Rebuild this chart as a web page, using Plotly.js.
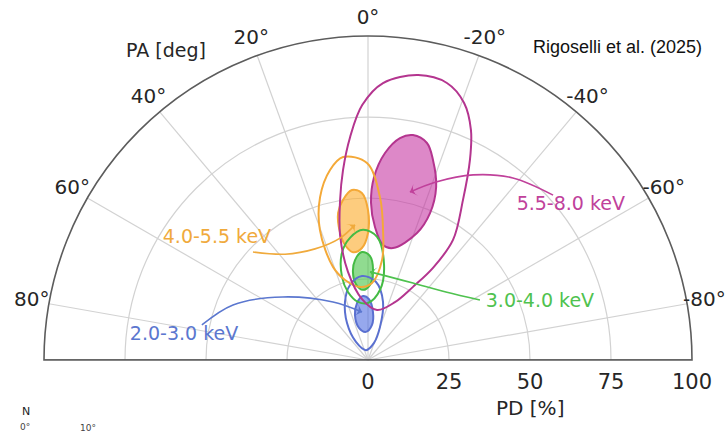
<!DOCTYPE html>
<html>
<head>
<meta charset="utf-8">
<script src="https://cdn.plot.ly/plotly-3.0.1.min.js"></script>
<style>
  html, body { margin: 0; padding: 0; background: #fff; }
  #chart { width: 726px; height: 433px; }
</style>
</head>
<body>
<div id="chart"></div>
<script>
// Energy bands
const bands = ['2.0-3.0 keV', '3.0-4.0 keV', '4.0-5.5 keV', '5.5-8.0 keV'];

// Confidence contours, PD [%] and PA [deg] along each closed curve
const pd_5580_outer = [89.3, 88.9, 84.7, 77.8, 69.3, 57.4, 45.4, 34.8, 26.5, 19.7, 15.7, 18.9, 27.9, 39.5, 50.1, 59.1, 69.0, 78.7, 85.6, 89.3];
const pa_5580_outer = [-10.0, -15.9, -20.5, -24.1, -27.0, -30.7, -35.3, -35.2, -31.6, -25.0, -10.2, 5.6, 12.8, 12.6, 9.9, 7.5, 4.6, 1.3, -3.1, -10.0];
const pd_5580_inner = [70.8, 69.4, 64.9, 57.4, 49.2, 42.0, 35.4, 35.8, 41.1, 48.5, 56.5, 64.1, 69.2, 70.8];
const pa_5580_inner = [-11.3, -15.2, -18.0, -21.5, -22.9, -21.1, -12.6, -7.4, -3.0, -1.1, -1.9, -4.7, -8.2, -11.3];

const pd_4055_outer = [63.1, 59.8, 52.4, 42.8, 30.7, 25.7, 22.7, 23.8, 31.2, 40.4, 50.4, 60.8, 63.1];
const pa_4055_outer = [7.0, 11.3, 16.4, 20.3, 20.6, 16.0, 6.3, -3.0, -8.0, -6.6, -4.2, 0.3, 7.0];
const pd_4055_inner = [52.7, 50.0, 46.3, 40.1, 36.2, 33.6, 34.6, 39.2, 46.3, 51.6, 52.7];
const pa_4055_inner = [5.4, 8.9, 11.5, 12.4, 11.3, 7.9, 3.1, 0.0, 0.0, 2.1, 5.4];

const pd_3040_outer = [40.2, 38.1, 34.0, 26.8, 21.9, 18.2, 17.6, 21.9, 29.7, 38.1, 40.2];
const pa_3040_outer = [2.2, 8.4, 13.7, 17.4, 16.4, 9.8, 0.0, -9.7, -9.6, -4.2, 2.2];
const pd_3040_inner = [33.4, 31.1, 27.6, 23.7, 21.7, 23.2, 27.8, 32.1, 33.4];
const pa_3040_inner = [3.2, 7.4, 9.7, 9.0, 4.1, -1.5, -3.2, -1.1, 3.2];

const pd_2030_outer = [26.0, 23.8, 19.3, 13.1, 6.7, 3.1, 5.6, 10.8, 18.5, 24.2, 26.0];
const pa_2030_outer = [4.1, 13.5, 21.6, 29.6, 33.7, 11.3, -19.4, -20.0, -14.5, -5.9, 4.1];
const pd_2030_inner = [19.8, 17.9, 14.5, 10.3, 8.7, 10.9, 14.9, 18.8, 19.8];
const pa_2030_inner = [4.5, 10.9, 16.1, 15.7, 4.1, -6.5, -5.9, -0.9, 4.5];

// Curved pointers from each band label to its contour
const pd_arrow_5580 = [76.5, 71.8, 65.7, 58.8, 53.4];
const pa_arrow_5580 = [-48.3, -38.5, -29.6, -20.9, -14.0];
const pd_arrow_4055 = [48.7, 41.5, 38.0, 38.6, 41.9];
const pa_arrow_4055 = [46.8, 38.1, 25.5, 12.9, 5.5];
const pd_arrow_3040 = [39.2, 31.9, 27.5, 26.6, 27.2];
const pa_arrow_3040 = [-61.8, -48.9, -30.3, -10.0, -1.3];
const pd_arrow_2030 = [52.4, 45.0, 32.7, 20.9, 14.9];
const pa_arrow_2030 = [78.1, 67.8, 53.5, 31.1, 7.1];

// Label anchor positions (PD, PA)
const label_pd = [57.3, 56.0, 59.9, 78.8];
const label_pa = [82.3, -71.4, 51.1, -52.6];

// Axis ticks
const pa_ticks = [-80, -60, -40, -20, 0, 20, 40, 60, 80];
const pa_ticktext = pa_ticks.map(v => v + '°');
const pa_label_pd = pa_ticks.map(() => 105.4);   // PA labels sit just outside the rim
const pd_ticks = [0, 25, 50, 75, 100];
const pd_range = [0, 100];
const pd_outer_range = [0, 105.86];
const pa_edges = [90, 0, -90];
const pd_edges = [100, 0, 100];

const lineColors = ['#5a70d0', '#44bb44', '#f4a938', '#b4358f'];
const fillColors = ['rgba(80,110,225,0.6)', 'rgba(70,195,70,0.6)', 'rgba(252,170,40,0.6)', 'rgba(196,50,160,0.58)'];
const textColors = ['#5b77cf', '#4fc24f', '#f0aa3c', '#c0419b'];

const outer = [[pd_2030_outer, pa_2030_outer], [pd_3040_outer, pa_3040_outer], [pd_4055_outer, pa_4055_outer], [pd_5580_outer, pa_5580_outer]];
const inner = [[pd_2030_inner, pa_2030_inner], [pd_3040_inner, pa_3040_inner], [pd_4055_inner, pa_4055_inner], [pd_5580_inner, pa_5580_inner]];
const arrows = [[pd_arrow_2030, pa_arrow_2030], [pd_arrow_3040, pa_arrow_3040], [pd_arrow_4055, pa_arrow_4055], [pd_arrow_5580, pa_arrow_5580]];

const traces = [];

// bottom edge of the half disc
traces.push({
  type: 'scatterpolar', r: pd_edges, theta: pa_edges, mode: 'lines',
  line: { color: '#5c5c5c', width: 1.6 }, hoverinfo: 'skip', showlegend: false
});

// filled inner contours
inner.forEach(([r, t], i) => traces.push({
  type: 'scatterpolar', r: r, theta: t, mode: 'lines', fill: 'toself',
  fillcolor: fillColors[i], line: { color: lineColors[i], width: 2, shape: 'spline' },
  hoverinfo: 'skip', showlegend: false
}));

// outer contours
outer.forEach(([r, t], i) => traces.push({
  type: 'scatterpolar', r: r, theta: t, mode: 'lines',
  line: { color: lineColors[i], width: 2, shape: 'spline' },
  hoverinfo: 'skip', showlegend: false
}));

// pointers
arrows.forEach(([r, t], i) => traces.push({
  type: 'scatterpolar', r: r, theta: t, mode: 'lines+markers',
  line: { color: textColors[i], width: 1.6, shape: 'spline' },
  marker: {
    symbol: 'arrow-wide', size: 9, color: textColors[i],
    angleref: 'previous', opacity: r.map((_, k) => (k === r.length - 1 ? 1 : 0))
  },
  hoverinfo: 'skip', showlegend: false
}));

// band labels
bands.forEach((b, i) => traces.push({
  type: 'scatterpolar', r: [label_pd[i]], theta: [label_pa[i]], mode: 'text',
  text: [b], textposition: 'middle center',
  textfont: { family: 'DejaVu Sans', size: 19, color: textColors[i] },
  cliponaxis: false, hoverinfo: 'skip', showlegend: false
}));

// PA tick labels, centred on a ring just outside the rim (second, bare polar frame)
traces.push({
  type: 'scatterpolar', subplot: 'polar2', r: pa_label_pd, theta: pa_ticks, mode: 'text',
  text: pa_ticktext, textposition: 'middle center',
  textfont: { family: 'DejaVu Sans', size: 20, color: '#262626' },
  cliponaxis: false, hoverinfo: 'skip', showlegend: false
});

const gridColor = '#d2d2d2';
const hiddenAxis = { showgrid: false, showline: false, showticklabels: false, ticks: '' };
const layout = {
  width: 726, height: 433,
  margin: { l: 25, r: 15, t: 17, b: 73, pad: 0 },
  paper_bgcolor: '#fff',
  showlegend: false,
  font: { family: 'DejaVu Sans', color: '#262626' },
  polar: {
    domain: { x: [0.027697, 0.972303], y: [0, 0.944606] },
    sector: [0, 180],
    bgcolor: '#fff',
    angularaxis: {
      rotation: 90, direction: 'counterclockwise', thetaunit: 'degrees',
      tickmode: 'array', tickvals: pa_ticks, ticktext: pa_ticktext, showticklabels: false,
      ticks: '', showline: true, linecolor: '#5c5c5c', linewidth: 1.6,
      showgrid: true, gridcolor: gridColor, gridwidth: 1.2
    },
    radialaxis: {
      range: pd_range, tickmode: 'array', tickvals: pd_ticks,
      angle: 0, side: 'clockwise', tickangle: 0,
      ticks: 'outside', ticklen: 3, tickcolor: 'rgba(0,0,0,0)', showline: false,
      showgrid: true, gridcolor: gridColor, gridwidth: 1.2,
      tickfont: { family: 'DejaVu Sans', size: 21, color: '#262626' }
    }
  },
  polar2: {
    domain: { x: [0, 1], y: [0, 1] },
    sector: [0, 180],
    bgcolor: 'rgba(0,0,0,0)',
    angularaxis: Object.assign({ rotation: 90, direction: 'counterclockwise', thetaunit: 'degrees' }, hiddenAxis),
    radialaxis: Object.assign({ range: pd_outer_range }, hiddenAxis)
  },
  annotations: [
    { text: 'PA [deg]', xref: 'paper', yref: 'paper', x: 0.2055, y: 0.9038, xanchor: 'center', yanchor: 'middle',
      showarrow: false, font: { family: 'DejaVu Sans', size: 19, color: '#262626' } },
    { text: 'PD [%]', xref: 'paper', yref: 'paper', x: 0.7362, y: -0.1399, xanchor: 'center', yanchor: 'middle',
      showarrow: false, font: { family: 'DejaVu Sans', size: 20, color: '#262626' } },
    { text: 'Rigoselli et al. (2025)', xref: 'paper', yref: 'paper', x: 0.8644, y: 0.9125, xanchor: 'center', yanchor: 'middle',
      showarrow: false, font: { family: 'Liberation Sans, Arial', size: 18, color: '#111' } },
    { text: 'N', xref: 'paper', yref: 'paper', x: 0.0015, y: -0.1487, xanchor: 'center', yanchor: 'middle',
      showarrow: false, font: { family: 'DejaVu Sans', size: 11, color: '#222' } },
    { text: '0°', xref: 'paper', yref: 'paper', x: 0.0, y: -0.195, xanchor: 'center', yanchor: 'middle',
      showarrow: false, font: { family: 'DejaVu Sans', size: 9, color: '#444' } },
    { text: '10°', xref: 'paper', yref: 'paper', x: 0.0918, y: -0.198, xanchor: 'center', yanchor: 'middle',
      showarrow: false, font: { family: 'DejaVu Sans', size: 9, color: '#444' } }
  ]
};

Plotly.newPlot('chart', traces, layout, { displayModeBar: false, staticPlot: true });
</script>
</body>
</html>
